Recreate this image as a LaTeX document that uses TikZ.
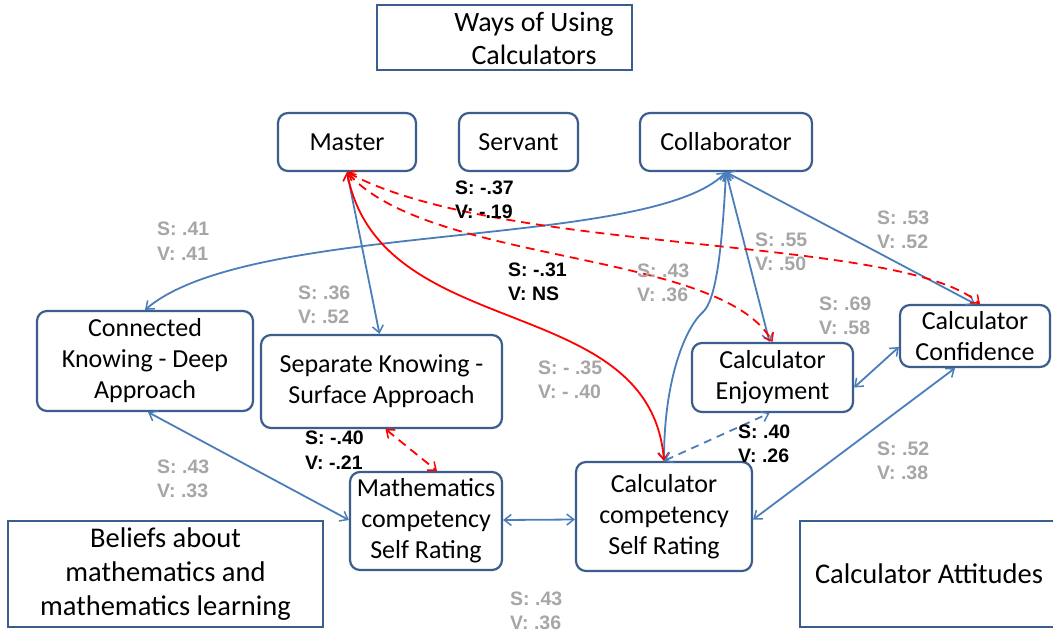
\documentclass[tikz,border=0pt]{standalone}
\usepackage{fontspec}
\setmainfont{Carlito}
\newfontfamily\labfamily{Liberation Sans}
\usetikzlibrary{arrows.meta,calc}
\definecolor{boxblue}{HTML}{3B5E8C}
\definecolor{lineblue}{HTML}{4A7EBB}
\definecolor{labgray}{HTML}{A6A6A6}
\definecolor{linered}{HTML}{FF0000}
\tikzset{
  rbox/.style={draw=boxblue, line width=2.2pt, rounded corners=10pt, fill=white, align=center,
    font=\fontsize{26}{31}\selectfont, inner sep=0pt},
  sbox/.style={draw=boxblue, line width=2.2pt, fill=white, align=center,
    font=\fontsize{28.5}{34}\selectfont, inner sep=0pt},
  lab/.style={font=\labfamily\bfseries\fontsize{19.5}{24.5}\selectfont, align=left, anchor=west,
    text=labgray, inner sep=0pt},
  blab/.style={lab, text=black},
  tipb/.tip={Straight Barb[length=7pt,width=11pt,line width=1.5pt]},
  bl/.style={draw=lineblue, line width=1.8pt, tipb-tipb},
  rd/.style={draw=linered, line width=1.8pt, tipb-tipb},
  rdd/.style={rd, dash pattern=on 9pt off 6pt},
  bld/.style={bl, dash pattern=on 8pt off 6pt},
}
\begin{document}
\begin{tikzpicture}[x=1pt,y=-1pt]
\useasboundingbox[fill=white] (0,0) rectangle (1053,632);
% boxes
\node[sbox, minimum width=255pt, minimum height=65pt] (title) at (504.5,37.5) {};
\node[font=\fontsize{28}{33}\selectfont, align=center, inner sep=0pt] (titletext) at (534,38) {Ways of Using\\Calculators};
\node[rbox, minimum width=138pt, minimum height=58pt] (master) at (347,142) {Master};
\node[rbox, minimum width=119pt, minimum height=58pt] (servant) at (518.5,142) {Servant};
\node[rbox, minimum width=172pt, minimum height=58pt] (collab) at (726,142) {Collaborator};
\node[rbox, minimum width=216pt, minimum height=100pt] (connected) at (145,361) {Connected\\Knowing - Deep\\Approach};
\node[rbox, minimum width=241pt, minimum height=93pt] (separate) at (381.5,381.5) {Separate Knowing -\\Surface Approach};
\node[rbox, minimum width=152pt, minimum height=98pt] (math) at (426,521) {Mathematics\\competency\\Self Rating};
\node[rbox, minimum width=176pt, minimum height=109pt] (calccomp) at (664,516.5) {Calculator\\competency\\Self Rating};
\node[rbox, minimum width=161pt, minimum height=69pt] (enjoy) at (772.5,377.5) {Calculator\\Enjoyment};
\node[rbox, minimum width=150pt, minimum height=62pt] (confid) at (975,336) {Calculator\\Confidence};
\node[sbox, minimum width=315pt, minimum height=106pt] (beliefs) at (165.5,574) {Beliefs about\\mathematics and\\mathematics learning};
\node[sbox, minimum width=258pt, minimum height=106pt] (attitudes) at (929,574) {Calculator Attitudes};
% connectors
\draw[bl] (collab.south) .. controls (650,250) and (250,220) .. (connected.north);
\draw[bl] (master.south) -- ($(separate.north)+(-2,0)$);
\draw[bl] (collab.south) -- ($(enjoy.north)+(-3,0)$);
\draw[bl] (collab.south) -- (confid.north);
\draw[bl] (collab.south) .. controls (722,250) and (716,300) .. (703,312)
   .. controls (685,328) and (664,380) .. (calccomp.north);
\draw[rdd] (master.south) .. controls (500,255) and (900,235) .. ($(confid.north)+(5,0)$);
\draw[rdd] (master.south) .. controls (430,265) and (720,250) .. ($(enjoy.north)+(0,0)$);
\draw[rd] (master.south) .. controls (380,345) and (650,290) .. (calccomp.north);
\draw[bl] ($(enjoy.east)+(0,10)$) -- ($(confid.west)+(0,11)$);
\draw[bl] ($(calccomp.east)+(0,3)$) -- ($(confid.south)+(-20,0)$);
\draw[bld] (calccomp.north) -- ($(enjoy.south)+(-3,0)$);
\draw[bl] ($(connected.south)+(3,0)$) -- ($(math.west)+(0,-1)$);
\draw[bl] ($(math.east)+(0,-1)$) -- ($(calccomp.west)+(0,3)$);
\draw[rdd] ($(separate.south)+(4,0)$) -- ($(math.north)+(11,0)$);
% labels
\node[lab] (l1) at (157,241) {S: .41\\V: .41};
\node[lab] (l2) at (298,305) {S: .36\\V: .52};
\node[blab] (l3) at (455,200) {S: -.37\\V: -.19};
\node[blab] (l4) at (508,282) {S: -.31\\V: NS};
\node[lab] (l5) at (637,283) {S: .43\\V: .36};
\node[lab] (l6) at (755,252) {S: .55\\V: .50};
\node[lab] (l7) at (877,230) {S: .53\\V: .52};
\node[lab] (l8) at (819,316) {S: .69\\V: .58};
\node[lab] (l9) at (538,380) {S: - .35\\V: - .40};
\node[blab] (l10) at (738,444) {S: .40\\V: .26};
\node[lab] (l11) at (877,461) {S: .52\\V: .38};
\node[blab] (l12) at (305,450) {S: -.40\\V: -.21};
\node[lab] (l13) at (157,479) {S: .43\\V: .33};
\node[lab] (l14) at (510,611) {S: .43\\V: .36};
\end{tikzpicture}
\end{document}
